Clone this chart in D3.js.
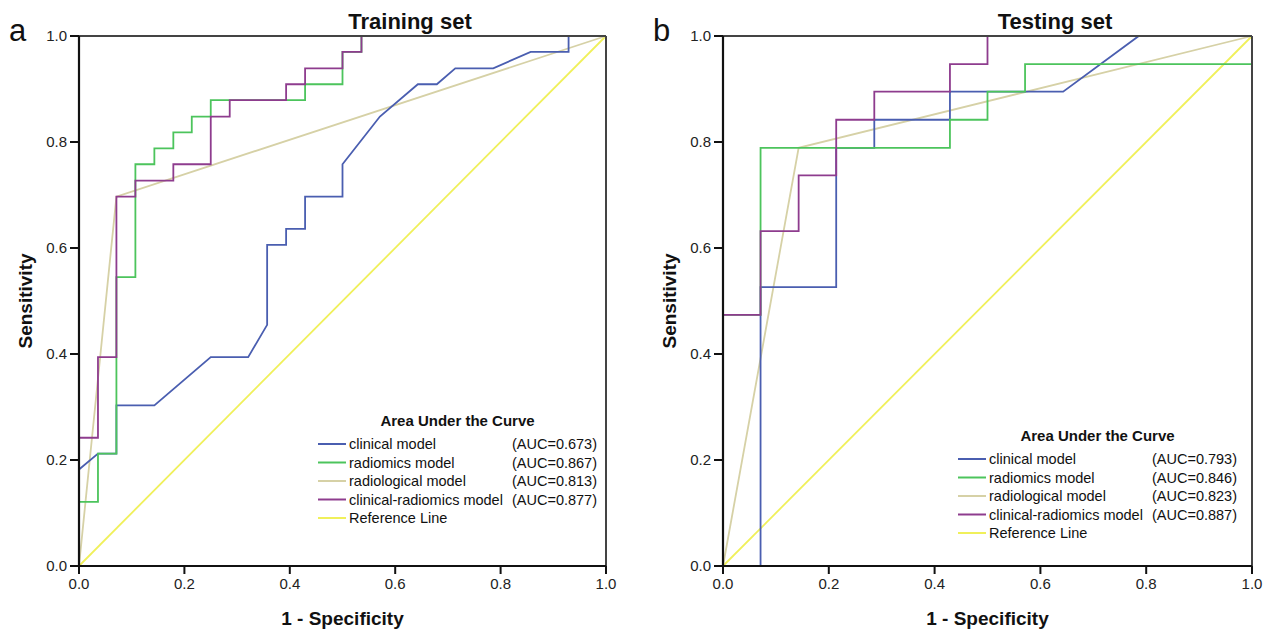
<!DOCTYPE html>
<html>
<head>
<meta charset="utf-8">
<script src="https://cdn.jsdelivr.net/npm/d3@7"></script>
<style>
  body { margin: 0; background: #fff; }
  svg { display: block; font-family: "Liberation Sans", Arial, sans-serif; }
</style>
</head>
<body>
<svg id="chart" width="1269" height="634"></svg>
<script>
// ROC points as [1 - specificity, sensitivity]
const trainClinical = [[0,0],[0,0.182],[0.036,0.212],[0.071,0.212],[0.071,0.303],[0.143,0.303],[0.25,0.394],[0.321,0.394],[0.357,0.455],[0.357,0.606],[0.393,0.606],[0.393,0.636],[0.429,0.636],[0.429,0.697],[0.5,0.697],[0.5,0.758],[0.571,0.848],[0.643,0.909],[0.679,0.909],[0.714,0.939],[0.786,0.939],[0.857,0.970],[0.929,0.970],[0.929,1],[1,1]]
const trainRadiomics = [[0,0],[0,0.121],[0.036,0.121],[0.036,0.212],[0.071,0.212],[0.071,0.545],[0.107,0.545],[0.107,0.758],[0.143,0.758],[0.143,0.788],[0.179,0.788],[0.179,0.818],[0.214,0.818],[0.214,0.848],[0.25,0.848],[0.25,0.879],[0.429,0.879],[0.429,0.909],[0.5,0.909],[0.5,0.970],[0.536,0.970],[0.536,1],[1,1]]
const trainRadiological = [[0,0],[0.071,0.697],[1,1]]
const trainCombined = [[0,0],[0,0.242],[0.036,0.242],[0.036,0.394],[0.071,0.394],[0.071,0.697],[0.107,0.697],[0.107,0.727],[0.179,0.727],[0.179,0.758],[0.25,0.758],[0.25,0.848],[0.286,0.848],[0.286,0.879],[0.393,0.879],[0.393,0.909],[0.429,0.909],[0.429,0.939],[0.5,0.939],[0.5,0.970],[0.536,0.970],[0.536,1],[1,1]]

const testClinical = [[0,0],[0.071,0],[0.071,0.526],[0.214,0.526],[0.214,0.789],[0.286,0.789],[0.286,0.842],[0.429,0.842],[0.429,0.895],[0.643,0.895],[0.786,1],[1,1]]
const testRadiomics = [[0,0],[0,0.474],[0.071,0.474],[0.071,0.789],[0.429,0.789],[0.429,0.842],[0.5,0.842],[0.5,0.895],[0.571,0.895],[0.571,0.947],[1,0.947],[1,1]]
const testRadiological = [[0,0],[0.143,0.789],[1,1]]
const testCombined = [[0,0],[0,0.474],[0.071,0.474],[0.071,0.632],[0.143,0.632],[0.143,0.737],[0.214,0.737],[0.214,0.842],[0.286,0.842],[0.286,0.895],[0.429,0.895],[0.429,0.947],[0.5,0.947],[0.5,1],[1,1]]

const referenceLine = [[0,0],[1,1]]

const seriesNames = ['clinical model', 'radiomics model', 'radiological model', 'clinical-radiomics model', 'Reference Line']
const trainAuc = ['(AUC=0.673)', '(AUC=0.867)', '(AUC=0.813)', '(AUC=0.877)']
const testAuc = ['(AUC=0.793)', '(AUC=0.846)', '(AUC=0.823)', '(AUC=0.887)']
const tickValues = [0, 0.2, 0.4, 0.6, 0.8, 1.0]

const colors = ['#4a5eb0', '#4cc45c', '#d6d1a6', '#8e3c8e', '#f0f05a']

const svg = d3.select('#chart')

function drawPanel(cfg) {
  const x = d3.scaleLinear().domain([0, 1]).range([cfg.x0, cfg.x1])
  const y = d3.scaleLinear().domain([0, 1]).range([566, 36])
  const g = svg.append('g').attr('class', 'panel-' + cfg.letter)

  const line = d3.line().x(d => x(d[0])).y(d => y(d[1]))

  // reference first, then the models (draw order as in SPSS output)
  const curves = [
    { data: referenceLine, color: colors[4] },
    { data: cfg.series[2], color: colors[2] },
    { data: cfg.series[0], color: colors[0] },
    { data: cfg.series[1], color: colors[1] },
    { data: cfg.series[3], color: colors[3] }
  ]
  g.selectAll('.curve')
    .data(curves)
    .join('path')
    .attr('class', 'curve')
    .attr('d', d => line(d.data))
    .attr('fill', 'none')
    .attr('stroke', d => d.color)
    .attr('stroke-width', 1.8)

  // frame top / right
  g.append('line')
    .attr('x1', x(0)).attr('x2', x(1))
    .attr('y1', y(1)).attr('y2', y(1))
    .attr('stroke', '#444').attr('stroke-width', 2)
  g.append('line')
    .attr('x1', x(1)).attr('x2', x(1))
    .attr('y1', y(1)).attr('y2', y(0))
    .attr('stroke', '#444').attr('stroke-width', 2)

  // axes
  const yAxis = g.append('g')
    .attr('transform', 'translate(' + x(0) + ',0)')
    .call(d3.axisLeft(y).tickValues(tickValues).tickFormat(d3.format('.1f')).tickSize(9).tickSizeOuter(0).tickPadding(3).offset(0))
  const xAxis = g.append('g')
    .attr('transform', 'translate(0,' + y(0) + ')')
    .call(d3.axisBottom(x).tickValues(tickValues).tickFormat(d3.format('.1f')).tickSize(8).tickSizeOuter(0).tickPadding(4).offset(0))
  ;[yAxis, xAxis].forEach(a => {
    a.select('.domain').attr('stroke', '#111').attr('stroke-width', 2.2)
    a.selectAll('.tick line').attr('stroke', '#111').attr('stroke-width', 2)
    a.selectAll('.tick text')
      .attr('fill', '#222')
      .attr('font-size', 15)
      .attr('font-family', '"Liberation Sans", Arial, sans-serif')
  })

  // titles
  g.append('text')
    .attr('x', cfg.titleX)
    .attr('y', 29)
    .attr('text-anchor', 'middle')
    .attr('font-size', 22)
    .attr('font-weight', 'bold')
    .attr('fill', '#111')
    .text(cfg.title)

  g.append('text')
    .attr('x', cfg.x0 - 70)
    .attr('y', 41)
    .attr('font-size', 31)
    .attr('fill', '#111')
    .text(cfg.letter)

  g.append('text')
    .attr('transform', 'translate(' + (cfg.x0 - 47) + ',' + y(0.5) + ') rotate(-90)')
    .attr('text-anchor', 'middle')
    .attr('font-size', 19)
    .attr('font-weight', 'bold')
    .attr('fill', '#111')
    .text('Sensitivity')

  g.append('text')
    .attr('x', (x(0) + x(1)) / 2)
    .attr('y', 625)
    .attr('text-anchor', 'middle')
    .attr('font-size', 19)
    .attr('font-weight', 'bold')
    .attr('fill', '#111')
    .text('1 - Specificity')

  // legend
  const lg = g.append('g').attr('class', 'legend')
  lg.append('text')
    .attr('x', (cfg.legX + cfg.legEnd) / 2)
    .attr('y', cfg.legY - 18)
    .attr('text-anchor', 'middle')
    .attr('font-size', 15)
    .attr('font-weight', 'bold')
    .attr('fill', '#111')
    .text('Area Under the Curve')

  const rows = lg.selectAll('.row')
    .data(seriesNames)
    .join('g')
    .attr('class', 'row')
    .attr('transform', (d, i) => 'translate(0,' + (cfg.legY + i * 18.5) + ')')
  rows.append('line')
    .attr('x1', cfg.legX).attr('x2', cfg.legX + 28)
    .attr('stroke', (d, i) => colors[i])
    .attr('stroke-width', 2)
  rows.append('text')
    .attr('x', cfg.legX + 31)
    .attr('dy', '0.35em')
    .attr('font-size', 14.5)
    .attr('fill', '#111')
    .text(d => d)
  rows.filter((d, i) => i < 4).append('text')
    .attr('x', cfg.legEnd)
    .attr('dy', '0.35em')
    .attr('text-anchor', 'end')
    .attr('font-size', 14.5)
    .attr('fill', '#111')
    .text((d, i) => cfg.auc[i])
}

drawPanel({
  letter: 'a', title: 'Training set', x0: 79, x1: 606, titleX: 410,
  series: [trainClinical, trainRadiomics, trainRadiological, trainCombined],
  auc: trainAuc, legX: 318, legEnd: 597, legY: 444
})
drawPanel({
  letter: 'b', title: 'Testing set', x0: 723, x1: 1252, titleX: 1055,
  series: [testClinical, testRadiomics, testRadiological, testCombined],
  auc: testAuc, legX: 958, legEnd: 1237, legY: 459
})
</script>
</body>
</html>
